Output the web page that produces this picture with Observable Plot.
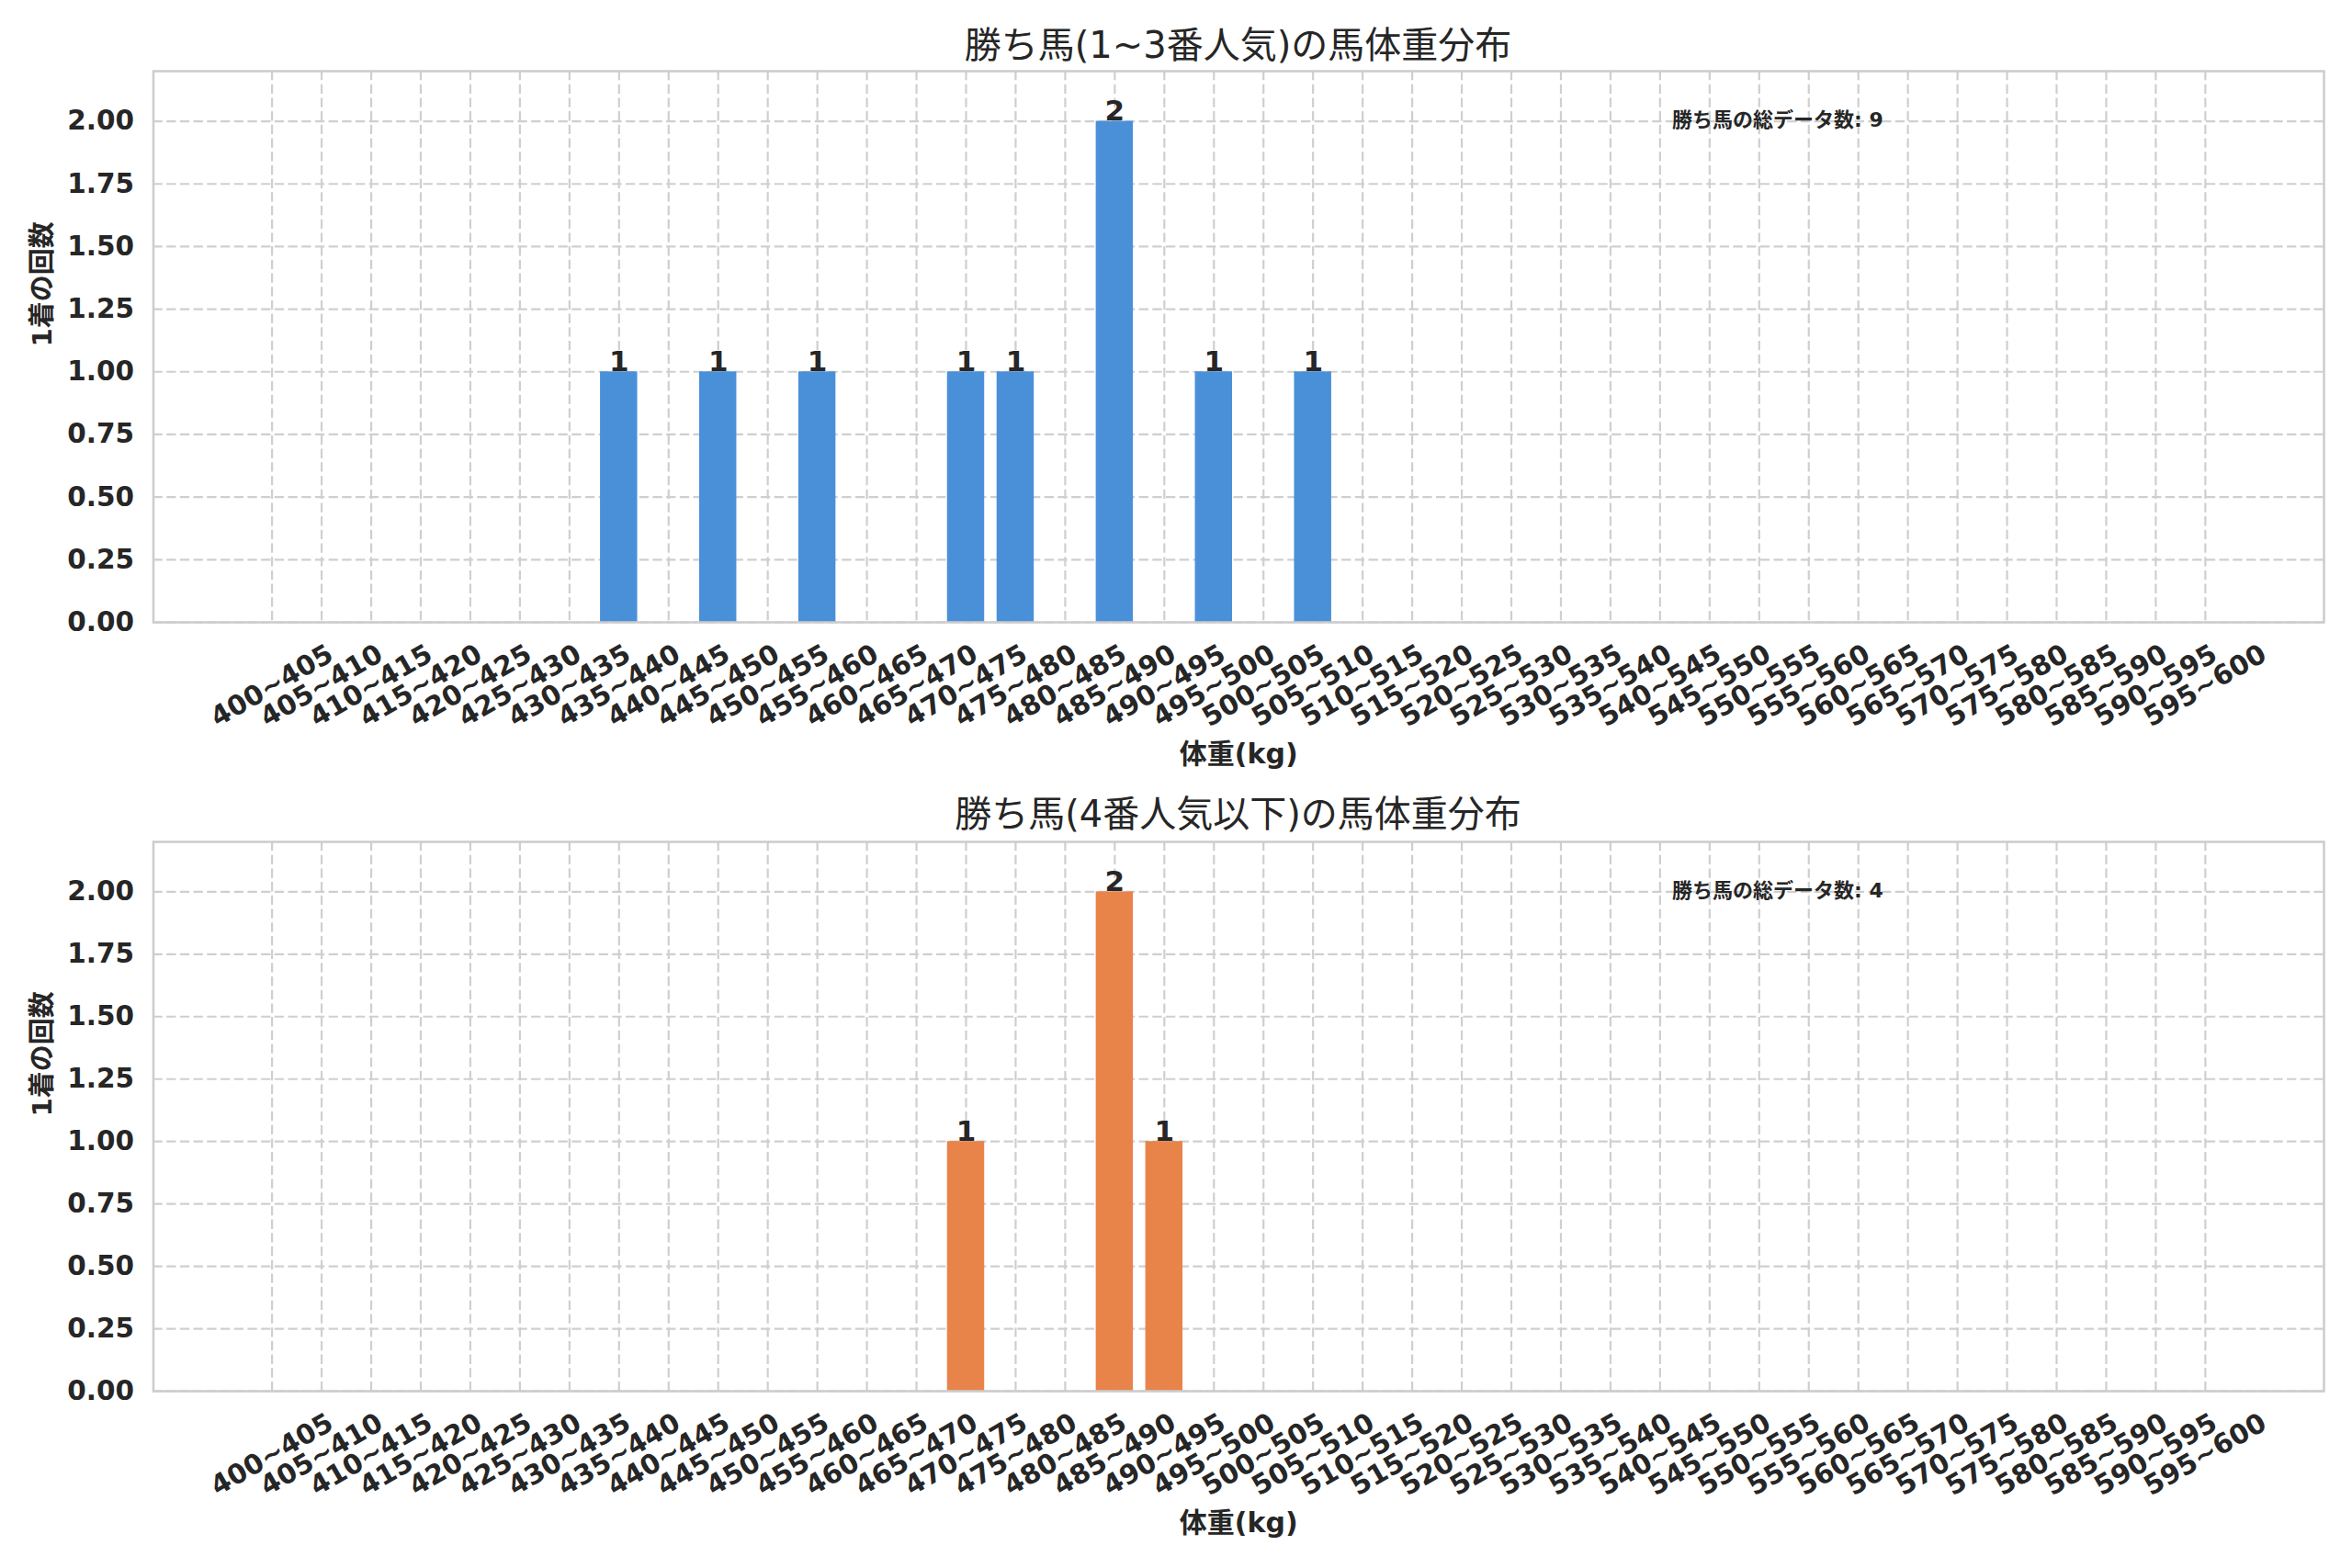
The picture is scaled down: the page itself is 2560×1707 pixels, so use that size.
<!DOCTYPE html>
<html>
<head>
<meta charset="utf-8">
<script src="https://cdn.jsdelivr.net/npm/d3@7"></script>
<script src="https://cdn.jsdelivr.net/npm/@observablehq/plot@0.6"></script>
<style>
  html, body { margin: 0; padding: 0; background: #ffffff; }
  #page { position: relative; width: 2560px; height: 1707px; background: #ffffff;
          font-family: "DejaVu Sans", "Noto Sans CJK JP", sans-serif; color: #262626; overflow: hidden; }
  .title { position: absolute; left: 166px; width: 2363px; text-align: center;
           font-size: 40px; line-height: 40px; font-weight: normal; color: #262626; white-space: nowrap; }
  .chart { position: absolute; left: 0; }
</style>
</head>
<body>
<div id="page"></div>
<script>
// ---- data ----
const categories = [
  "400~405","405~410","410~415","415~420","420~425","425~430","430~435","435~440",
  "440~445","445~450","450~455","455~460","460~465","465~470","470~475","475~480",
  "480~485","485~490","490~495","495~500","500~505","505~510","510~515","515~520",
  "520~525","525~530","530~535","535~540","540~545","545~550","550~555","555~560",
  "560~565","565~570","570~575","575~580","580~585","585~590","590~595","595~600"
];
const topBins = ["435~440","445~450","455~460","470~475","475~480","485~490","495~500","505~510"];
const topCounts = [1, 1, 1, 1, 1, 2, 1, 1];
const bottomBins = ["470~475","485~490","490~495"];
const bottomCounts = [1, 2, 1];
const yTicks = [0, 0.25, 0.5, 0.75, 1.0, 1.25, 1.5, 1.75, 2.0];
const titles = ["勝ち馬(1~3番人気)の馬体重分布", "勝ち馬(4番人気以下)の馬体重分布"];
const totals = [9, 4];
const annotationLabel = "勝ち馬の総データ数";
const xLabel = "体重(kg)";
const yLabel = "1着の回数";
const colors = ["#4a90d9", "#e8834a"];

// ---- drawing ----
const page = document.getElementById("page");
const FONT = '"DejaVu Sans", "Noto Sans CJK JP", sans-serif';
const GRID = "#cfcfcf";

function makeChart(bins, counts, color, total, plotHeight) {
  const data = bins.map((b, i) => ({bin: b, count: counts[i]}));
  const marginTop = 10, marginBottom = 170;
  return Plot.plot({
    width: 2560,
    height: marginTop + plotHeight + marginBottom,
    marginLeft: 166.5,
    marginRight: 31,
    marginTop,
    marginBottom,
    style: {fontFamily: FONT, color: "#262626", background: "transparent", overflow: "visible"},
    x: {type: "band", domain: categories, paddingInner: 0.25, paddingOuter: 2.018, axis: null},
    y: {domain: [0, 2.2], axis: null},
    marks: [
      Plot.ruleY(yTicks, {y: d => d, stroke: GRID, strokeWidth: 2.2, strokeDasharray: "10.3,4.4"}),
      Plot.ruleX(categories, {x: d => d, stroke: GRID, strokeWidth: 2.2, strokeDasharray: "10.3,4.4"}),
      Plot.barY(data, {x: "bin", y: "count", fill: color}),
      Plot.frame({stroke: "#cccccc", strokeWidth: 2.5}),
      Plot.axisY(yTicks, {anchor: "left", tickSize: 0, tickPadding: 21, label: null,
        tickFormat: d => d.toFixed(2), fontSize: 29.5, fontWeight: "bold", fill: "#262626"}),
      Plot.text(categories, {x: d => d, text: d => d, frameAnchor: "bottom", dy: 69, rotate: -30,
        textAnchor: "middle", lineAnchor: "middle", fontSize: 29.5, fontWeight: "bold", fill: "#262626"}),
      Plot.text(data, {x: "bin", y: "count", text: d => String(d.count), dy: -1, lineAnchor: "bottom",
        fontSize: 31, fontWeight: "bold", fill: "#262626"}),
      Plot.text([yLabel], {text: d => d, frameAnchor: "left", dx: -120, rotate: -90,
        fontSize: 29, fontWeight: "bold", fill: "#262626"}),
      Plot.text([xLabel], {text: d => d, frameAnchor: "bottom", dy: 144, lineAnchor: "middle",
        fontSize: 30, fontWeight: "bold", fill: "#262626"}),
      Plot.text([`${annotationLabel}: ${total}`], {text: d => d, frameAnchor: "top-left", dx: 1653, dy: 53,
        textAnchor: "start", lineAnchor: "middle", fontSize: 22, fontWeight: "bold", fill: "#262626"})
    ]
  });
}

function addTitle(text, centerY) {
  const t = document.createElement("div");
  t.className = "title";
  t.style.top = (centerY - 20) + "px";
  t.textContent = text;
  page.appendChild(t);
}

function addChart(svg, top) {
  const wrap = document.createElement("div");
  wrap.className = "chart";
  wrap.style.top = top + "px";
  wrap.appendChild(svg);
  page.appendChild(wrap);
}

addTitle(titles[0], 49);
addChart(makeChart(topBins, topCounts, colors[0], totals[0], 600), 67);
addTitle(titles[1], 886);
addChart(makeChart(bottomBins, bottomCounts, colors[1], totals[1], 598), 906);
</script>
</body>
</html>
